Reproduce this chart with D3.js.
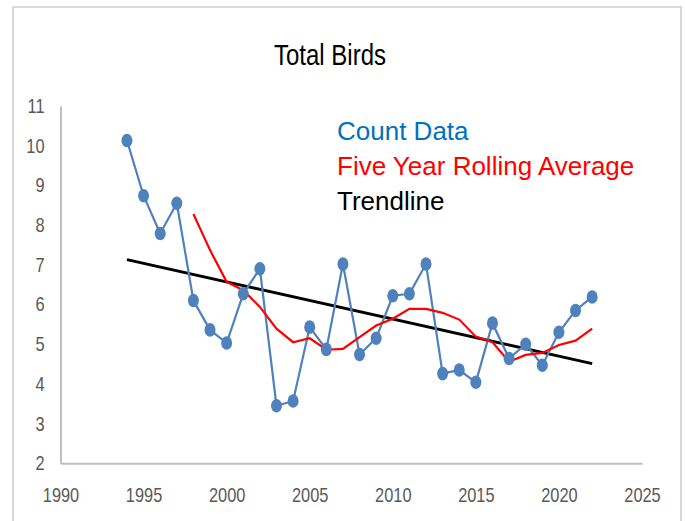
<!DOCTYPE html>
<html>
<head>
<meta charset="utf-8">
<script src="https://cdn.jsdelivr.net/npm/d3@7"></script>
<style>
  body { margin: 0; background: #fff; }
  svg { display: block; }
</style>
</head>
<body>
<svg id="chart" width="685" height="521"></svg>
<script>
(function () {

  // count data, one value per year
  var years = d3.range(1994, 2023);
  var counts = [10.13, 8.74, 7.79, 8.55, 6.1, 5.36, 5.03, 6.27, 6.9, 3.45,
                3.57, 5.43, 4.87, 7.02, 4.74, 5.15, 6.22, 6.27, 7.02, 4.26,
                4.35, 4.04, 5.53, 4.64, 5.0, 4.47, 5.3, 5.85, 6.19];

  // five year rolling average, starts 1998
  var avgYears = d3.range(1998, 2023);
  var rolling = [8.28, 7.37, 6.57, 6.36, 5.94, 5.39, 5.05, 5.15, 4.86, 4.88,
                 5.18, 5.47, 5.64, 5.89, 5.89, 5.79, 5.62, 5.19, 5.05, 4.56,
                 4.73, 4.78, 4.98, 5.09, 5.39];

  var trendYears = [1994, 2022];
  var trend = [7.13, 4.51];

  var xTicks = [1990, 1995, 2000, 2005, 2010, 2015, 2020, 2025];
  var yTicks = [2, 3, 4, 5, 6, 7, 8, 9, 10, 11];

  var legendNames = ['Count Data', 'Five Year Rolling Average', 'Trendline'];
  var legendColors = ['#0070c0', '#ff0000', '#000000'];

  var svg = d3.select('#chart');

  svg.append('rect')
    .attr('x', 13)
    .attr('y', 7)
    .attr('width', 668)
    .attr('height', 540)
    .attr('fill', 'white')
    .attr('stroke', '#d9d9d9')
    .attr('stroke-width', 2);

  var x = d3.scaleLinear().domain([1990, 2025]).range([60.5, 642]);
  var y = d3.scaleLinear().domain([2, 11]).range([463.3, 106]);

  // narrow look: squeeze regular font horizontally
  svg.append('g')
    .attr('transform', 'translate(330,65) scale(0.8,1)')
    .append('text')
    .attr('text-anchor', 'middle')
    .attr('font-family', '"Liberation Sans", sans-serif')
    .attr('font-size', '30px')
    .attr('fill', '#000')
    .text('Total Birds');

  // axes
  var xAxis = svg.append('g')
    .attr('transform', 'translate(0,463.3)')
    .call(d3.axisBottom(x).tickValues(xTicks).tickFormat(d3.format('d')).tickSize(0).tickPadding(25));
  xAxis.select('.domain').attr('stroke', '#bfbfbf').attr('stroke-width', 2);
  xAxis.selectAll('text')
    .attr('font-family', '"Liberation Sans", sans-serif')
    .attr('font-size', '20px')
    .attr('fill', '#595959')
    .attr('transform', 'scale(0.82,1)');

  var yAxis = svg.append('g')
    .attr('transform', 'translate(60.5,0)')
    .call(d3.axisLeft(y).tickValues(yTicks).tickSize(0).tickPadding(16));
  yAxis.select('.domain').attr('stroke', '#bfbfbf').attr('stroke-width', 2);
  yAxis.selectAll('text')
    .attr('font-family', '"Liberation Sans", sans-serif')
    .attr('font-size', '20px')
    .attr('fill', '#595959')
    .attr('x', -16 / 0.82)
    .attr('transform', 'scale(0.82,1)');

  // trendline
  var trendLine = d3.line()
    .x(function(d, i) { return x(trendYears[i]); })
    .y(function(d) { return y(d); });
  svg.append('path')
    .attr('d', trendLine(trend))
    .attr('fill', 'none')
    .attr('stroke', '#000')
    .attr('stroke-width', 3);

  // count data
  var countLine = d3.line()
    .x(function(d, i) { return x(years[i]); })
    .y(function(d) { return y(d); });
  svg.append('path')
    .attr('d', countLine(counts))
    .attr('fill', 'none')
    .attr('stroke', '#4f81bd')
    .attr('stroke-width', 2.2);

  // rolling average
  var avgLine = d3.line()
    .x(function(d, i) { return x(avgYears[i]); })
    .y(function(d) { return y(d); });
  svg.append('path')
    .attr('d', avgLine(rolling))
    .attr('fill', 'none')
    .attr('stroke', '#ff0000')
    .attr('stroke-width', 2.2);

  svg.append('g').selectAll('ellipse')
    .data(counts)
    .enter()
    .append('ellipse')
    .attr('cx', function(d, i) { return x(years[i]); })
    .attr('cy', function(d) { return y(d); })
    .attr('rx', 5.5)
    .attr('ry', 6.8)
    .attr('fill', '#4f81bd');

  svg.append('g').selectAll('text')
    .data(legendNames)
    .enter()
    .append('text')
    .attr('x', 337)
    .attr('y', function(d, i) { return 140 + i * 35; })
    .attr('font-family', '"Liberation Sans", sans-serif')
    .attr('font-size', '26px')
    .attr('fill', function(d, i) { return legendColors[i]; })
    .text(function(d) { return d; });

})()
</script>
</body>
</html>
